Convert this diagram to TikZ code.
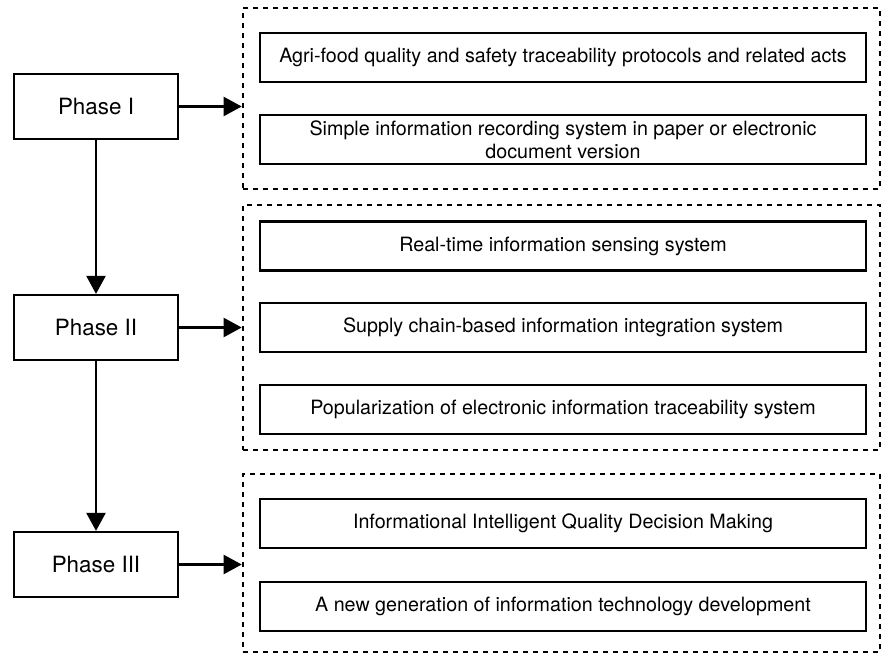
\documentclass[tikz,border=0pt]{standalone}
\usepackage{fontspec}
\setmainfont{TeX Gyre Heros}
\usetikzlibrary{arrows.meta}
\tikzset{
  phasebox/.style={draw, line width=2.2pt, minimum width=164pt, minimum height=65pt, inner sep=0pt, font=\fontsize{22.4}{26}\selectfont},
  itembox/.style={draw, line width=2.2pt, minimum width=606pt, minimum height=49pt, inner sep=0pt, align=center, font=\fontsize{19.7}{23}\selectfont},
  groupbox/.style={draw, line width=2.6pt, dash pattern=on 5pt off 5pt, minimum width=637pt, inner sep=0pt},
  link/.style={line width=2.2pt, -{Triangle[length=18pt,width=19pt]}}
}
\begin{document}
\begin{tikzpicture}[x=1pt,y=-1pt]
\useasboundingbox (0,0) rectangle (883,656);
% groups
\node[groupbox, minimum height=181pt] (g1) at (561.5,98.5) {};
\node[groupbox, minimum height=245pt] (g2) at (561.5,327.5) {};
\node[groupbox, minimum height=178pt] (g3) at (561.5,563) {};
% phases
\node[phasebox] (p1) at (96,106.5) {Phase I};
\node[phasebox] (p2) at (96,327.5) {Phase II};
\node[phasebox] (p3) at (96,564.5) {Phase III};
% items
\node[itembox] (a1) at (563,57.5) {Agri-food quality and safety traceability protocols and related acts};
\node[itembox] (a2) at (563,139.5) {Simple information recording system in paper or electronic\\document version};
\node[itembox] (b1) at (563,246) {Real-time information sensing system};
\node[itembox] (b2) at (563,327.5) {Supply chain-based information integration system};
\node[itembox] (b3) at (563,409.5) {Popularization of electronic information traceability system};
\node[itembox] (c1) at (563,523.5) {Informational Intelligent Quality Decision Making};
\node[itembox] (c2) at (563,606.5) {A new generation of information technology development};
% connectors
\draw[link] (p1.south) -- (p2.north);
\draw[link] (p2.south) -- (p3.north);
\draw[link] (p1.east) -- (g1.west |- p1.east);
\draw[link] (p2.east) -- (g2.west |- p2.east);
\draw[link] (p3.east) -- (g3.west |- p3.east);
\end{tikzpicture}
\end{document}
